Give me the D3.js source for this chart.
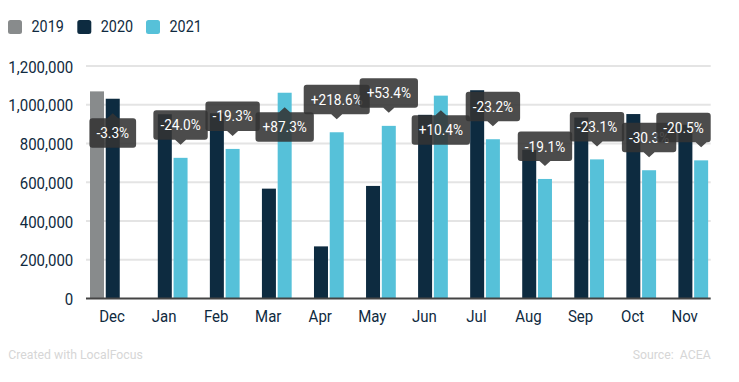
<!DOCTYPE html>
<html><head><meta charset="utf-8">
<script src="https://cdn.jsdelivr.net/npm/d3@7"></script>
<style>
body{margin:0;background:#fff;}
svg{display:block;font-family:Roboto, sans-serif;}
</style></head><body>
<svg id="chart" width="739" height="382"></svg>
<script>
const months = ["Dec","Jan","Feb","Mar","Apr","May","Jun","Jul","Aug","Sep","Oct","Nov"];
const seriesNames = ["2019","2020","2021"];
const values2019 = [1069000,null,null,null,null,null,null,null,null,null,null,null];
const values2020 = [1031000,951000,956000,567000,269000,581000,948000,1075000,767000,934000,952000,897000];
const values2021 = [null,726000,772000,1062000,858000,891000,1047000,822000,617000,718000,662000,713000];
const changeLabels = ["-3.3%","-24.0%","-19.3%","+87.3%","+218.6%","+53.4%","+10.4%","-23.2%","-19.1%","-23.1%","-30.3%","-20.5%"];
const yTicks = [0,200000,400000,600000,800000,1000000,1200000];
const seriesColors = ["#888b8c","#0d2b40","#56c1d9"];

const SX = 0.91;
const svg = d3.select("#chart");
const L = 86, R = 710.7, T = 66, B = 298.5;
const seriesValues = [values2019, values2020, values2021];

const x0 = d3.scaleBand().domain(months).range([L, R]).padding(0);
const x1 = d3.scaleBand().domain(seriesNames).range([4, 49.5]).paddingInner(0.111);
const y = d3.scaleLinear().domain([0, 1200000]).range([B, T]);
const fmt = d3.format(",");

// legend
const leg = svg.append("g");
const legX = [8, 77.3, 146];
seriesNames.forEach((s, i) => {
  leg.append("rect").attr("x", legX[i]).attr("y", 20).attr("width", 14).attr("height", 14)
    .attr("rx", 2.5).attr("fill", seriesColors[i]);
  leg.append("text").attr("transform", `translate(${legX[i] + 23.5},32.3) scale(${SX},1)`)
    .attr("font-size", 15.8).attr("fill", "#0f2a40").text(s);
});

// gridlines
const grid = svg.append("g");
yTicks.filter(t => t > 0).forEach(t => {
  grid.append("line").attr("x1", L).attr("x2", R).attr("y1", y(t)).attr("y2", y(t))
    .attr("stroke", "#e4e4e4").attr("stroke-width", 2);
});

// y axis labels
const yAxis = d3.axisLeft(y).tickValues(yTicks).tickFormat(fmt).tickSize(0).tickPadding(0);
const ya = svg.append("g").attr("transform", `translate(${L - 12.7},0)`).call(yAxis);
ya.select(".domain").remove();
ya.selectAll("text").each(function(d) {
  d3.select(this).attr("x", null).attr("dy", null)
   .attr("transform", `translate(0,6) scale(${SX},1)`)
   .attr("font-size", 16.5).attr("font-family", "Roboto, sans-serif").attr("fill", "#0f2a40")
   .attr("text-anchor", "end");
});

// bars
const bars = svg.append("g");
months.forEach((m, mi) => {
  seriesNames.forEach((s, si) => {
    const v = seriesValues[si][mi];
    if (v == null) return;
    bars.append("rect")
      .attr("x", x0(m) + x1(s)).attr("width", x1.bandwidth())
      .attr("y", y(v)).attr("height", y(0) - y(v))
      .attr("fill", seriesColors[si]);
  });
});

// baseline
svg.append("line").attr("x1", L).attr("x2", R).attr("y1", B).attr("y2", B)
  .attr("stroke", "#444").attr("stroke-width", 2);

// x axis labels
const xAxis = d3.axisBottom(x0).tickSize(0).tickPadding(0);
const xa = svg.append("g").attr("transform", `translate(0,${B})`).call(xAxis);
xa.select(".domain").remove();
xa.selectAll("text").each(function(d) {
  d3.select(this).attr("y", null).attr("dy", null)
    .attr("transform", `translate(0,23.2) scale(${SX},1)`)
    .attr("font-size", 16.5).attr("font-family", "Roboto, sans-serif").attr("fill", "#0f2a40");
});

// callouts
const call = svg.append("g");
function calloutPath(x0_, y0_, w, h, r, ax, down) {
  const x1_ = x0_ + w, y1_ = y0_ + h, a = 5.5, ah = 5;
  if (down) {
    return `M${x0_ + r},${y0_}H${x1_ - r}Q${x1_},${y0_} ${x1_},${y0_ + r}V${y1_ - r}Q${x1_},${y1_} ${x1_ - r},${y1_}` +
      `H${ax + a}L${ax},${y1_ + ah}L${ax - a},${y1_}H${x0_ + r}Q${x0_},${y1_} ${x0_},${y1_ - r}V${y0_ + r}Q${x0_},${y0_} ${x0_ + r},${y0_}Z`;
  }
  return `M${x0_ + r},${y0_}H${ax - a}L${ax},${y0_ - ah}L${ax + a},${y0_}H${x1_ - r}Q${x1_},${y0_} ${x1_},${y0_ + r}V${y1_ - r}Q${x1_},${y1_} ${x1_ - r},${y1_}` +
    `H${x0_ + r}Q${x0_},${y1_} ${x0_},${y1_ - r}V${y0_ + r}Q${x0_},${y0_} ${x0_ + r},${y0_}Z`;
}
months.forEach((m, mi) => {
  let si = seriesNames.length - 1;
  while (si >= 0 && seriesValues[si][mi] == null) si--;
  const v = seriesValues[si][mi];
  const cx = x0(m) + x1(seriesNames[si]) + x1.bandwidth() / 2;
  const top = y(v);
  const g = call.append("g");
  const txt = g.append("text").attr("font-size", 15).attr("fill", "#fff").attr("text-anchor", "middle")
    .text(changeLabels[mi]);
  const tw = txt.node().getComputedTextLength() * SX;
  const w = tw + 14, h = 29.5;
  let bx = cx - w / 2;
  if (bx + w > R) bx = R - w;
  if (bx < L) bx = L;
  let down = true;
  let tip = top - 13;
  let by = tip - 5 - h;
  if (by < T) { down = false; tip = top + 14.5; by = tip + 5; }
  g.insert("path", "text").attr("d", calloutPath(bx, by, w, h, 3, cx, down))
    .attr("fill", "#333").attr("fill-opacity", 0.88);
  txt.attr("transform", `translate(${bx + w / 2},${by + h / 2 + 5.3}) scale(${SX},1)`);
});

// footer
svg.append("text").attr("transform", `translate(8.3,359) scale(${SX},1)`)
  .attr("font-size", 13.5).attr("fill", "#d6d6d6").text("Created with LocalFocus");
svg.append("text").attr("transform", `translate(${R},359) scale(${SX},1)`)
  .attr("font-size", 13.5).attr("fill", "#d6d6d6").attr("text-anchor", "end").attr("xml:space", "preserve").text("Source:  ACEA");
</script>
</body></html>
